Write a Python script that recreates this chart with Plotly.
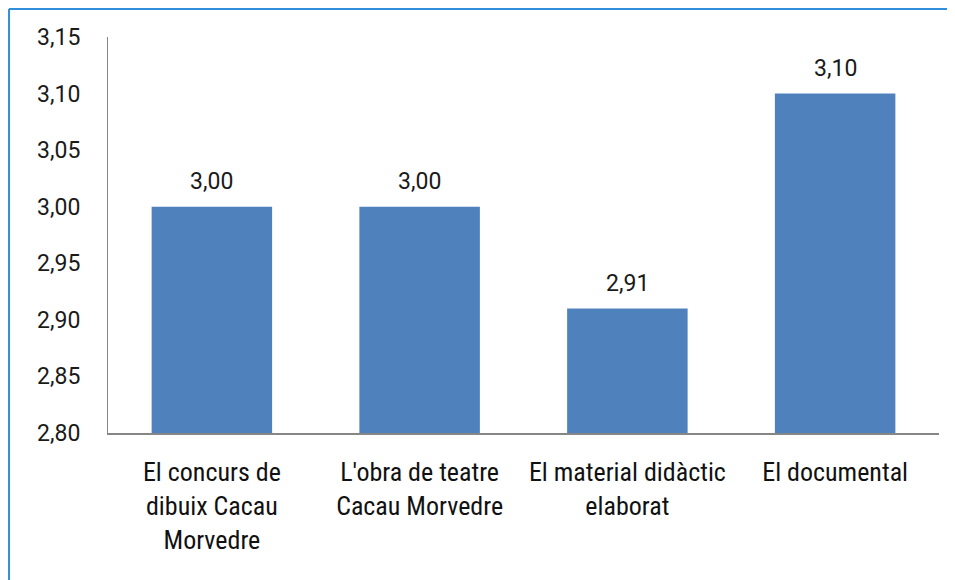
import plotly.graph_objects as go

categories = [
    "El concurs de<br>dibuix Cacau<br>Morvedre",
    "L'obra de teatre<br>Cacau Morvedre",
    "El material didàctic<br>elaborat",
    "El documental",
]
values = [3.00, 3.00, 2.91, 3.10]
y_ticks = [2.80, 2.85, 2.90, 2.95, 3.00, 3.05, 3.10, 3.15]

fig = go.Figure(
    go.Bar(
        x=categories,
        y=values,
        marker=dict(color="#4F81BD", line=dict(width=0)),
        hoverinfo="x+y",
    )
)

for c, v in zip(categories, values):
    fig.add_annotation(
        x=c, y=v, text=f"{v:.2f}".replace(".", ","),
        showarrow=False, yanchor="bottom", yshift=10,
        font=dict(family="Roboto", size=23, color="#1a1a1a"),
    )

fig.update_layout(
    width=947,
    height=572,
    separators=",.",
    paper_bgcolor="white",
    plot_bgcolor="white",
    margin=dict(l=100, r=16, t=29, b=147),
    bargap=0.42,
    showlegend=False,
    font=dict(family="Roboto", color="#1a1a1a"),
    xaxis=dict(
        showline=True,
        linecolor="#868686",
        linewidth=2,
        ticks="",
        tickfont=dict(family="Liberation Sans Narrow, Roboto Condensed, Liberation Sans", size=26, color="#111"),
        ticklabelstandoff=15,
    ),
    yaxis=dict(
        range=[2.80, 3.15],
        tickvals=y_ticks,
        tickformat=".2f",
        showline=True,
        linecolor="#868686",
        linewidth=1,
        showgrid=False,
        zeroline=False,
        ticks="",
        ticklabelstandoff=22,
        tickfont=dict(family="Roboto", size=23, color="#1a1a1a"),
    ),
    shapes=[
        dict(type="line", xref="paper", yref="paper",
             x0=-0.1191, x1=1.1, y0=1.0707, y1=1.0707,
             line=dict(color="#2F8FDD", width=2)),
        dict(type="line", xref="paper", yref="paper",
             x0=-0.1191, x1=-0.1191, y0=1.0707, y1=-0.5,
             line=dict(color="#2F8FDD", width=2)),
    ],
)

fig.write_html("out.html")
